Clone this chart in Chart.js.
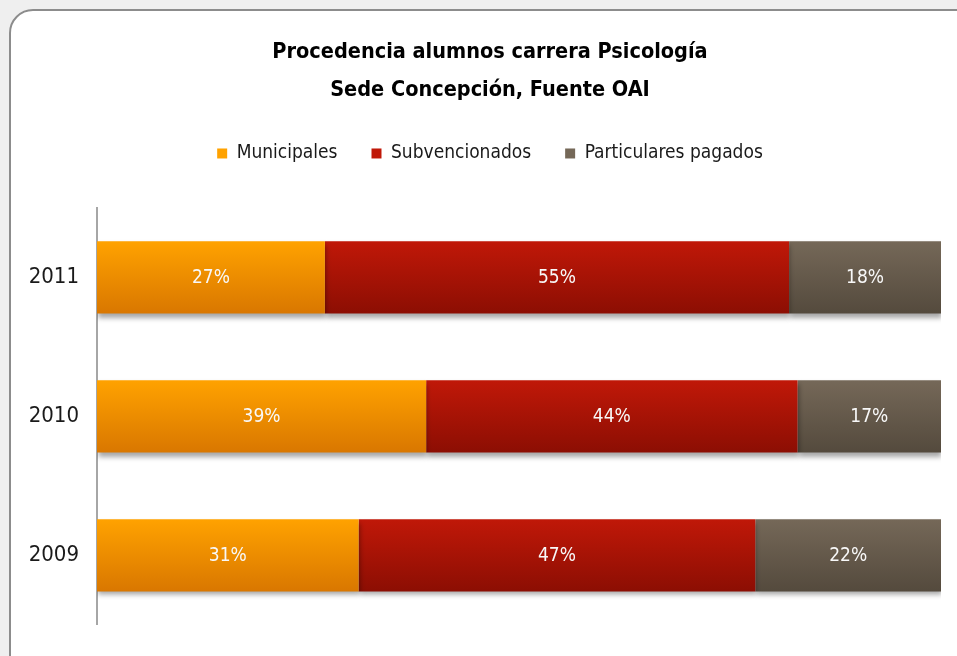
<!DOCTYPE html>
<html>
<head>
<meta charset="utf-8">
<script src="https://cdn.jsdelivr.net/npm/chart.js@4.4.1/dist/chart.umd.min.js"></script>
<style>
html, body { margin: 0; padding: 0; width: 957px; height: 656px; overflow: hidden; background: #efefef; }
#frame { position: absolute; left: 9px; top: 9px; width: 980px; height: 680px; background: #fff;
  border: 2px solid #8c8c8c; border-radius: 24px; box-sizing: border-box; }
#wrap { position: absolute; left: 0; top: 0; width: 982px; height: 656px; }
</style>
</head>
<body>
<div id="frame"></div>
<div id="wrap"><canvas id="c" width="982" height="656"></canvas></div>
<script>
var years = ['2011', '2010', '2009'];
var municipales = [27, 39, 31];
var subvencionados = [55, 44, 47];
var particulares = [18, 17, 22];

var FONT = "'Liberation Sans Narrow', 'DejaVu Sans Condensed', 'Open Sans', sans-serif";

function barGradient(top, bottom)
{
    return function(ctx)
    {
        var chart = ctx.chart;
        var y = chart.scales.y;
        if (!chart.chartArea || !y || ctx.dataIndex === undefined) return top;
        var step = Math.abs(y.getPixelForValue(1) - y.getPixelForValue(0));
        var half = step * 0.52 / 2;
        var cy = y.getPixelForValue(ctx.dataIndex);
        var g = chart.ctx.createLinearGradient(0, cy - half, 0, cy + half);
        g.addColorStop(0, top);
        g.addColorStop(1, bottom);
        return g;
    };
}

var shadowPlugin = {
    id: 'shadow',
    beforeDatasetsDraw: function(chart)
    {
        var c = chart.ctx;
        c.save();
        c.shadowColor = 'rgba(0,0,0,0.35)';
        c.shadowBlur = 5;
        c.shadowOffsetY = 4;
        c.shadowOffsetX = 1;
    },
    afterDatasetsDraw: function(chart)
    {
        chart.ctx.restore();
    },
    afterDraw: function(chart)
    {
        var c = chart.ctx;
        c.save();
        c.fillStyle = '#f8f8f8';
        c.font = '19px ' + FONT;
        c.textAlign = 'center';
        c.textBaseline = 'middle';
        chart.data.datasets.forEach(function(ds, i)
        {
            chart.getDatasetMeta(i).data.forEach(function(bar, j)
            {
                var p = bar.getProps(['x', 'base', 'y'], true);
                c.fillText(ds.data[j] + '%', (p.x + p.base) / 2, p.y + 1);
            });
        });
        c.restore();
    }
};

new Chart(document.getElementById('c'), {
    type: 'bar',
    data: {
        labels: years,
        datasets: [
            { label: 'Municipales', data: municipales, backgroundColor: barGradient('#ffa200', '#d97700') },
            { label: 'Subvencionados', data: subvencionados, backgroundColor: barGradient('#c01808', '#8c0e03') },
            { label: 'Particulares pagados', data: particulares, backgroundColor: barGradient('#756858', '#544a3d') }
        ]
    },
    options: {
        indexAxis: 'y',
        responsive: false,
        animation: false,
        devicePixelRatio: 1,
        layout: { padding: { top: 12, right: 41, bottom: 27, left: 39 } },
        datasets: { bar: { barPercentage: 0.52, categoryPercentage: 1 } },
        scales: {
            // x axis kept invisible at the top only to leave room under the legend
            x: {
                stacked: true, min: 0, max: 100, position: 'top',
                ticks: { display: false },
                grid: { display: false, drawTicks: false },
                border: { display: false },
                afterFit: function(s) { s.height = 35; }
            },
            y: {
                stacked: true,
                grid: { display: false, drawTicks: false },
                border: { display: true, color: '#a6a6a6', width: 2 },
                ticks: { color: '#1a1a1a', font: { family: FONT, size: 22 }, padding: 18 },
                afterFit: function(s)
                {
                    s.width = 58;
                    // labels reach into the left padding, so don't clip them
                    s._computeLabelArea = function() { return undefined; };
                }
            }
        },
        plugins: {
            title: {
                display: true,
                text: ['Procedencia alumnos carrera Psicología', 'Sede Concepción, Fuente OAI'],
                color: '#000',
                font: { family: FONT, size: 21.5, weight: 'bold', lineHeight: 1.767 },
                padding: { top: 21, bottom: 1 }
            },
            legend: {
                position: 'top',
                labels: {
                    color: '#1a1a1a',
                    font: { family: FONT, size: 19 },
                    boxWidth: 10, boxHeight: 10, padding: 34
                }
            },
            tooltip: { enabled: false }
        }
    },
    plugins: [shadowPlugin]
});
</script>
</body>
</html>
